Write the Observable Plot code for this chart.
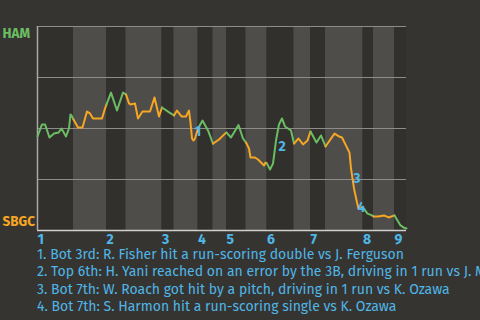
<!DOCTYPE html>
<html>
<head>
<meta charset="utf-8">
<script src="https://cdn.jsdelivr.net/npm/d3@7"></script>
<script src="https://cdn.jsdelivr.net/npm/@observablehq/plot@0.6"></script>
<style>
  html, body { margin: 0; padding: 0; background: #363430; width: 480px; height: 320px; overflow: hidden; }
  #chart svg { display: block; }
  #caption { font-family: "Fira Sans", Roboto, sans-serif; font-size: 14px; line-height: 17.3px; color: #4fb6e8; padding-left: 37px; white-space: nowrap; overflow: hidden; width: 443px; }
</style>
</head>
<body>
<div id="chart"></div>
<div id="caption"></div>
<script>
// Pitch index and HAM win probability
const pitch = [0,3,5,8,11,14,16,19,21,22,23,24,27,30,33,35,37,43,45,46,49,53,57,59,61,62,65,67,70,75,78,81,83,88,91,93,96,99,101,102,103,104,105,107,110,114,117,121,125,126,129,134,137,139,141,142,145,147,151,152,153,155,157,159,161,163,165,169,171,174,177,180,182,186,189,192,198,201,203,208,209,211,213,214,216,217,220,223,224,227,231,234,238,240,242,244,246];
const hamWP = [0.461,0.520,0.520,0.456,0.475,0.480,0.500,0.461,0.500,0.569,0.559,0.544,0.505,0.505,0.583,0.574,0.549,0.549,0.598,0.618,0.676,0.588,0.676,0.667,0.623,0.618,0.623,0.549,0.583,0.583,0.652,0.559,0.603,0.578,0.564,0.588,0.559,0.559,0.588,0.529,0.451,0.441,0.451,0.500,0.539,0.485,0.426,0.446,0.475,0.480,0.456,0.517,0.451,0.431,0.402,0.358,0.358,0.348,0.319,0.333,0.328,0.299,0.328,0.441,0.520,0.549,0.510,0.490,0.426,0.451,0.422,0.441,0.485,0.431,0.466,0.412,0.475,0.461,0.456,0.382,0.304,0.206,0.137,0.108,0.113,0.113,0.083,0.074,0.069,0.069,0.074,0.064,0.074,0.049,0.025,0.015,0.010];

// Half-inning start pitches (top 1st, bot 1st, ...), end of game
const halfStarts = [0,24,46,59,83,91,107,117,126,139,153,171,182,192,217,224,238];
const gameEnd = 246;
const inningLabels = ["1","2","3","4","5","6","7","8","9"];

// Key events
const eventNums = ["1","2","3","4"];
const eventPitch = [107,163,213,216];
const eventWP = [0.483,0.412,0.255,0.113];
const eventTexts = [
  "1. Bot 3rd: R. Fisher hit a run-scoring double vs J. Ferguson",
  "2. Top 6th: H. Yani reached on an error by the 3B, driving in 1 run vs J. Mendez",
  "3. Bot 7th: W. Roach got hit by a pitch, driving in 1 run vs K. Ozawa",
  "4. Bot 7th: S. Harmon hit a run-scoring single vs K. Ozawa"
];

const teams = ["HAM", "SBGC"];
const GREEN = "#6bbd63", ORANGE = "#f5a623", BLUE = "#4fb6e8";

const halves = halfStarts.map((s, k) => ({
  x1: s, x2: k + 1 < halfStarts.length ? halfStarts[k + 1] : gameEnd,
  top: k % 2 === 0
}));

const segs = [];
halves.forEach((h, k) => {
  pitch.forEach((p, i) => {
    if (p >= h.x1 && p <= h.x2) segs.push({x: p, y: hamWP[i], seg: k, color: h.top ? GREEN : ORANGE});
  });
});

const innings = inningLabels.map((t, i) => ({x: halfStarts[i * 2], t}));
const events = eventNums.map((t, i) => ({x: eventPitch[i], y: eventWP[i], t}));

const font = '"Fira Sans", Roboto, sans-serif';

const chart = Plot.plot({
  width: 480, height: 246,
  marginLeft: 37, marginRight: 74, marginTop: 26, marginBottom: 16,
  x: {domain: [0, gameEnd], axis: null},
  y: {domain: [0, 1], axis: null},
  color: {type: "identity"},
  style: {background: "transparent", fontFamily: font},
  marks: [
    Plot.rect(halves, {x1: "x1", x2: "x2", y1: 0, y2: 1, fill: d => d.top ? "#32302d" : "#4e4d4a"}),
    Plot.ruleY([0.25, 0.5, 0.75, 1], {stroke: "#8d8c89", strokeWidth: 1}),
    Plot.ruleY([0], {stroke: "#cfcfcf", strokeWidth: 1.5}),
    Plot.ruleX([0], {stroke: "#a8a8a8", strokeWidth: 1.5}),
    Plot.line(segs, {x: "x", y: "y", z: "seg", stroke: "color", strokeWidth: 2, curve: "linear"}),
    Plot.text(events, {x: "x", y: "y", text: "t", fill: BLUE, fontWeight: "bold", fontSize: 14}),
    Plot.text(innings, {x: "x", y: 0, text: "t", fill: BLUE, fontWeight: "bold", fontSize: 14, textAnchor: "start", dy: 13, lineAnchor: "bottom"}),
    Plot.text([teams[0]], {x: 0, y: 1, text: d => d, fill: GREEN, fontWeight: "bold", fontSize: 13.5, textAnchor: "start", dx: -35, dy: 7}),
    Plot.text([teams[1]], {x: 0, y: 0, text: d => d, fill: ORANGE, fontWeight: "bold", fontSize: 13.5, textAnchor: "start", dx: -35, dy: -9})
  ]
});
document.getElementById("chart").appendChild(chart);

const cap = document.getElementById("caption");
eventTexts.forEach(t => { const div = document.createElement("div"); div.textContent = t; cap.appendChild(div); });
</script>
</body>
</html>
